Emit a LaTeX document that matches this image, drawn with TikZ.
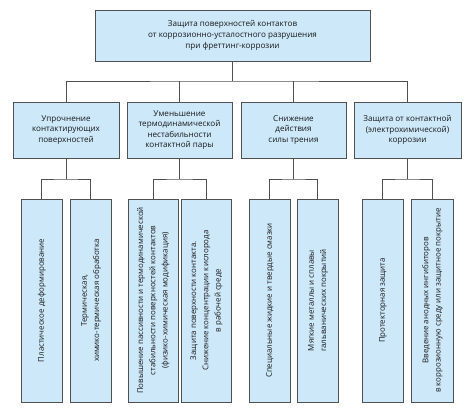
\documentclass[tikz,border=0pt]{standalone}
\usepackage{fontspec}
\setmainfont{Open Sans}
\usepackage{graphicx}
\definecolor{boxfill}{RGB}{204,232,249}
\definecolor{boxline}{RGB}{80,80,80}
\definecolor{txt}{RGB}{25,25,25}
\newcommand{\vtext}[1]{\rotatebox{90}{\begin{tabular}{@{}c@{}}#1\end{tabular}}}
\begin{document}
\begin{tikzpicture}[x=1pt,y=-1pt,
  box/.style={draw=boxline, fill=boxfill, line width=0.9pt, inner sep=0pt, align=center, text=txt, font=\fontsize{8.1}{10.6}\selectfont},
  vbox/.style={box, minimum height=203, font=\fontsize{7.9}{12.2}\selectfont},
  conn/.style={draw=boxline, line width=0.9pt}]
\useasboundingbox[fill=white] (0,0) rectangle (474,408);

\node[box, minimum width=275, minimum height=51] (top) at (232.5,35.5)
  {Защита поверхностей контактов\\от коррозионно-усталостного разрушения\\при фреттинг-коррозии};

\node[box, minimum width=106, minimum height=56] (b1) at (66,130)
  {Упрочнение\\контактирующих\\поверхностей};
\node[box, minimum width=105, minimum height=56] (b2) at (179.5,130)
  {Уменьшение\\термодинамической\\нестабильности\\контактной пары};
\node[box, minimum width=105, minimum height=56] (b3) at (293.5,130)
  {Снижение\\действия\\силы трения};
\node[box, minimum width=107, minimum height=56] (b4) at (407.5,130)
  {Защита от контактной\\(электрохимической)\\коррозии};

\node[vbox, minimum width=41] (ca) at (41.5,300.5) {\vtext{Пластическое деформирование}};
\node[vbox, minimum width=41] (cb) at (90.5,300.5) {\vtext{Термическая,\\химико-термическая обработка}};
\node[vbox, minimum width=50] (cc) at (153,300.5) {\vtext{Повышение пассивности и термодинамической\\стабильности поверхностей контактов\\(физико-химическая модификация)}};
\node[vbox, minimum width=50] (cd) at (206,300.5) {\vtext{Защита поверхности контакта.\\Снижение концентрации кислорода\\в рабочей среде}};
\node[vbox, minimum width=41] (ce) at (269.5,300.5) {\vtext{Специальные жидкие и твердые смазки}};
\node[vbox, minimum width=41] (cf) at (317.5,300.5) {\vtext{Мягкие металлы и сплавы\\гальванических покрытий}};
\node[vbox, minimum width=41] (cg) at (382.5,300.5) {\vtext{Протекторная защита}};
\node[vbox, minimum width=42] (ch) at (432,300.5) {\vtext{Введение анодных ингибиторов\\в коррозионную среду или защитное покрытие}};

% top level connectors
\draw[conn] (top.south) -- (top.south |- 0,81) coordinate (jt);
\draw[conn] (b1.north) |- (jt) -| (b4.north);
\draw[conn] (b2.north) -- (b2.north |- jt);
\draw[conn] (b3.north) -- (b3.north |- jt);

% second level connectors
\draw[conn] (b1.south) -- (b1.south |- 0,179) coordinate (j1);
\draw[conn] (ca.north) |- (j1) -| (cb.north);
\draw[conn] (b2.south) -- (b2.south |- 0,179) coordinate (j2);
\draw[conn] (cc.north) |- (j2) -| (cd.north);
\draw[conn] (b3.south) -- (b3.south |- 0,179) coordinate (j3);
\draw[conn] (ce.north) |- (j3) -| (cf.north);
\draw[conn] (b4.south) -- (b4.south |- 0,179) coordinate (j4);
\draw[conn] (cg.north) |- (j4) -| (ch.north);
\end{tikzpicture}
\end{document}
